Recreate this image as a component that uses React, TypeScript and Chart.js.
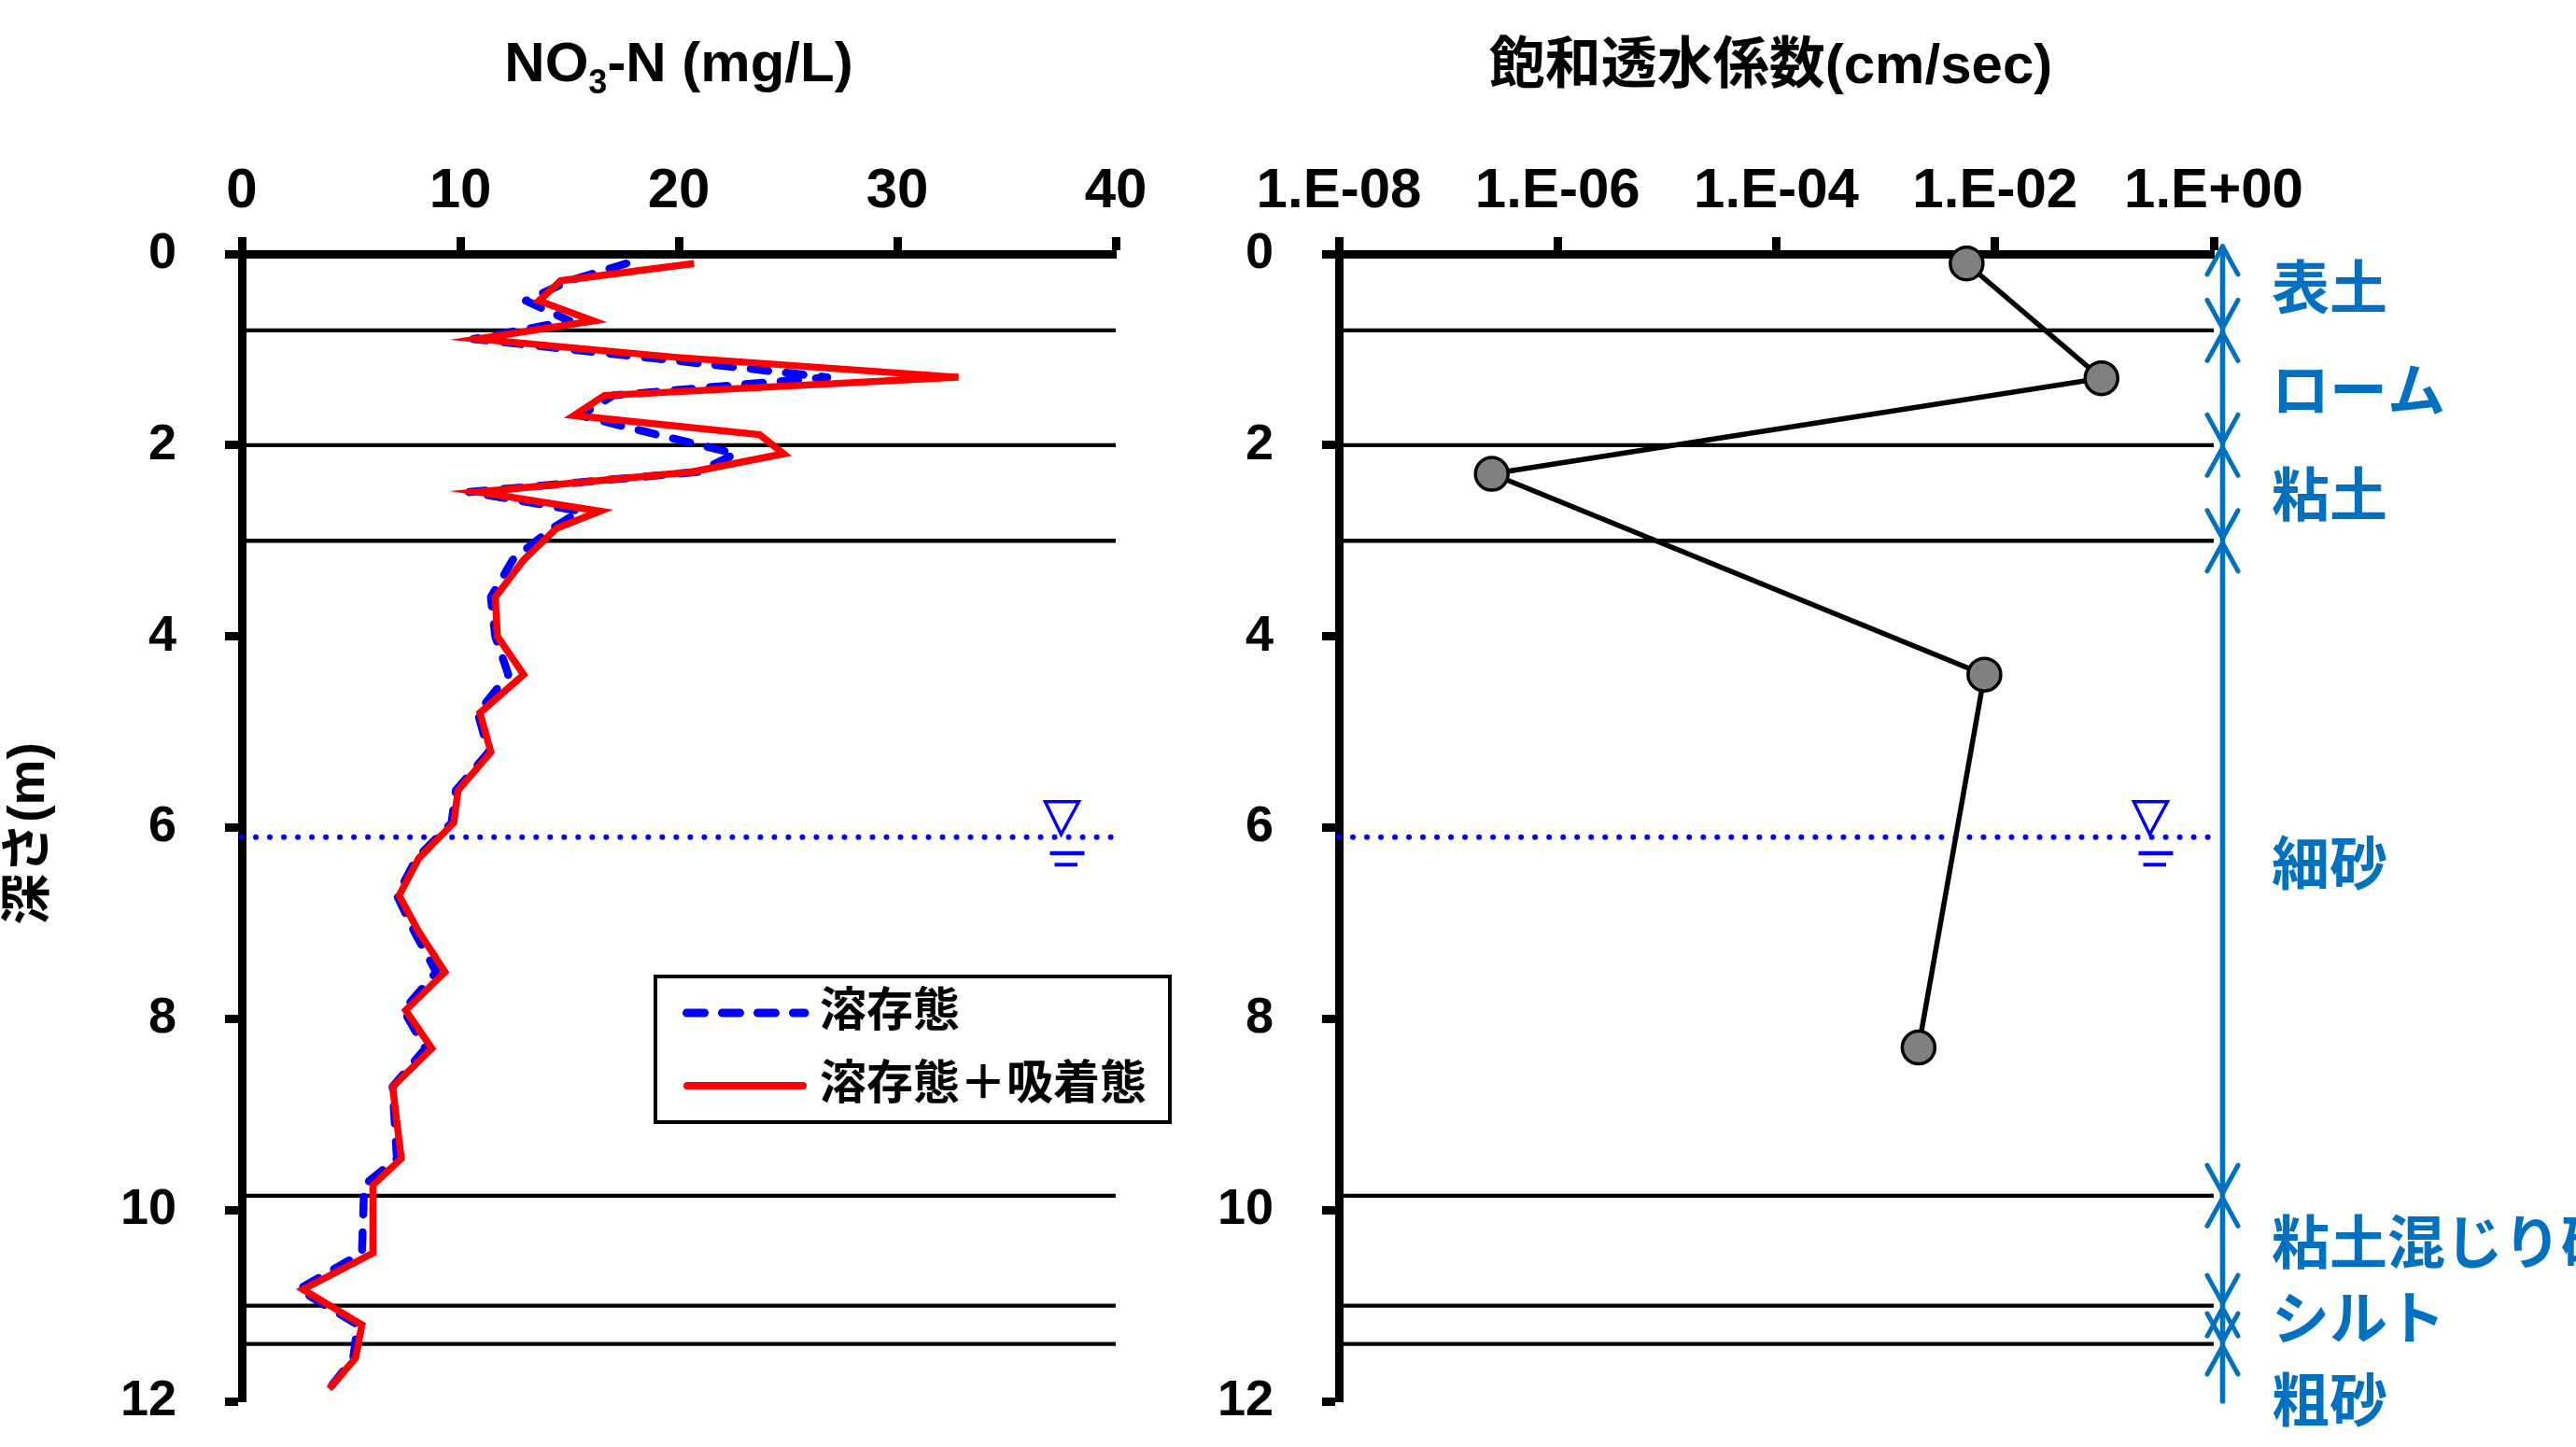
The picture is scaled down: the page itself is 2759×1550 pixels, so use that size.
import React, { useEffect, useRef } from 'react';
import { Chart, registerables } from 'chart.js';

Chart.register(...registerables);

// ---------------- data ----------------
const NO3_DEPTHS = [0.1, 0.28, 0.49, 0.7, 0.89, 1.08, 1.29, 1.48, 1.69, 1.89, 2.09, 2.28, 2.49, 2.69, 2.87, 3.2, 3.59, 4.0, 4.4, 4.8, 5.21, 5.61, 5.95, 6.32, 6.71, 7.09, 7.51, 7.91, 8.31, 8.71, 9.46, 9.74, 10.45, 10.83, 11.2, 11.55, 11.87];
const NO3_DISSOLVED = [17.6, 15.0, 13.0, 15.0, 10.6, 18.4, 26.8, 17.0, 15.5, 19.0, 22.6, 20.9, 10.4, 15.5, 14.2, 12.4, 11.4, 11.6, 12.2, 10.8, 11.3, 9.8, 9.6, 8.0, 7.1, 7.9, 8.9, 7.4, 8.4, 6.9, 7.1, 5.6, 5.5, 2.6, 5.3, 5.1, 4.0];
const NO3_TOTAL = [20.7, 14.6, 13.6, 16.1, 10.8, 19.8, 32.8, 16.6, 15.2, 23.7, 24.8, 20.6, 10.8, 16.4, 14.4, 12.9, 11.6, 11.7, 12.9, 10.9, 11.4, 9.9, 9.7, 8.1, 7.2, 8.1, 9.3, 7.5, 8.7, 6.9, 7.3, 6.0, 6.0, 2.8, 5.5, 5.2, 4.0];
const SERIES_LABELS = ['溶存態', '溶存態＋吸着態'];
const NO3_TICKS = [0, 10, 20, 30, 40];
const DEPTH_TICKS = [0, 2, 4, 6, 8, 10, 12];

const K_DEPTHS = [0.1, 1.3, 2.3, 4.4, 8.3];
const K_VALUES = [5.5e-3, 9.4e-2, 2.5e-7, 8.0e-3, 2.0e-3];
const K_TICKS = [1e-8, 1e-6, 1e-4, 1e-2, 1];
const K_TICK_LABELS = ['1.E-08', '1.E-06', '1.E-04', '1.E-02', '1.E+00'];

const LAYER_BOUNDARIES = [0.8, 2.0, 3.0, 9.85, 11.0, 11.4];
const LAYER_TOPS = [0, 0.8, 2.0, 3.0, 9.85, 11.0, 11.4];
const LAYER_BOTTOMS = [0.8, 2.0, 3.0, 9.85, 11.0, 11.4, 12];
const SOIL_NAMES = ['表土', 'ローム', '粘土', '細砂', '粘土混じり砂', 'シルト', '粗砂'];
const SOIL_LABEL_DEPTHS = [0.36, 1.43, 2.53, 6.38, 10.35, 11.14, 12.0];

const WATER_TABLE_DEPTH = 6.1;
const WATER_MARK_NO3 = 37.5;
const WATER_MARK_K = 0.26;

const TITLE_LEFT_MAIN = ['NO', '3', '-N (mg/L)'];
const TITLE_RIGHT = '飽和透水係数(cm/sec)';
const Y_TITLE = '深さ(m)';

// ---------------- layout / style ----------------
const PAGE_W = 2759;
const PAGE_H = 1550;
const FONT = "'Liberation Sans', Arial, 'Noto Sans CJK JP', sans-serif";
const SOIL_BLUE = '#0070C0';

const yAxis = (width: number) => ({
  type: 'linear',
  position: 'left',
  min: 0,
  max: 12,
  reverse: true,
  afterFit: (s: any) => {
    s.width = width;
    s.paddingTop = 0;
    s.paddingBottom = 0;
  },
  afterBuildTicks: (s: any) => { s.ticks = DEPTH_TICKS.map((v) => ({ value: v })); },
  ticks: { color: '#000', font: { family: FONT, size: 54, weight: 'bold' }, padding: 52, autoSkip: false },
  grid: { drawOnChartArea: false, drawTicks: true, tickLength: 18, tickWidth: 9, tickColor: '#000' },
  border: { display: true, color: '#000', width: 9 },
});

function drawLayerLines(chart: any) {
  const { ctx, chartArea, scales } = chart;
  ctx.save();
  ctx.strokeStyle = '#000';
  ctx.lineWidth = 4.3;
  LAYER_BOUNDARIES.forEach((d) => {
    const y = scales.y.getPixelForValue(d);
    ctx.beginPath();
    ctx.moveTo(chartArea.left, y);
    ctx.lineTo(chartArea.right, y);
    ctx.stroke();
  });
  ctx.restore();
}

function drawWaterMark(chart: any, xv: number) {
  const { ctx, scales } = chart;
  const cx = scales.x.getPixelForValue(xv);
  const ly = scales.y.getPixelForValue(WATER_TABLE_DEPTH);
  ctx.save();
  ctx.strokeStyle = '#0000FF';
  ctx.fillStyle = '#0000FF';
  ctx.lineWidth = 3.5;
  ctx.lineJoin = 'miter';
  ctx.beginPath();
  ctx.moveTo(cx - 17, ly - 38);
  ctx.lineTo(cx + 19, ly - 38);
  ctx.lineTo(cx, ly - 3);
  ctx.closePath();
  ctx.stroke();
  ctx.fillRect(cx - 12, ly + 15, 37, 4.5);
  ctx.fillRect(cx - 7, ly + 27.5, 24.5, 4);
  ctx.restore();
}

const leftDecor = {
  id: 'leftDecor',
  beforeDatasetsDraw(chart: any) { drawLayerLines(chart); },
  afterDatasetsDraw(chart: any) { drawWaterMark(chart, WATER_MARK_NO3); },
  afterDraw(chart: any) {
    const { ctx, chartArea } = chart;
    ctx.save();
    const cx = (chartArea.left + chartArea.right) / 2;
    const big = `bold 60px ${FONT}`;
    const small = `bold 36px ${FONT}`;
    ctx.font = big; const w1 = ctx.measureText(TITLE_LEFT_MAIN[0]).width;
    ctx.font = small; const w2 = ctx.measureText(TITLE_LEFT_MAIN[1]).width;
    ctx.font = big; const w3 = ctx.measureText(TITLE_LEFT_MAIN[2]).width;
    let x = cx - (w1 + w2 + w3) / 2;
    const base = 87;
    ctx.fillStyle = '#000';
    ctx.textAlign = 'left';
    ctx.textBaseline = 'alphabetic';
    ctx.font = big; ctx.fillText(TITLE_LEFT_MAIN[0], x, base); x += w1;
    ctx.font = small; ctx.fillText(TITLE_LEFT_MAIN[1], x, base + 13); x += w2;
    ctx.font = big; ctx.fillText(TITLE_LEFT_MAIN[2], x, base);

    ctx.save();
    ctx.translate(32, 893);
    ctx.rotate(-Math.PI / 2);
    ctx.font = `bold 55px ${FONT}`;
    ctx.textAlign = 'center';
    ctx.textBaseline = 'middle';
    ctx.fillText(Y_TITLE, 0, 0);
    ctx.restore();

    const lx = 702, ly = 1046, lw = 551, lh = 156;
    ctx.fillStyle = '#fff';
    ctx.fillRect(lx, ly, lw, lh);
    ctx.strokeStyle = '#000';
    ctx.lineWidth = 4;
    ctx.strokeRect(lx, ly, lw, lh);
    const rows = [1085, 1163];
    ctx.strokeStyle = '#0000FF';
    ctx.lineWidth = 9;
    ctx.lineCap = 'round';
    ctx.setLineDash([19, 19]);
    ctx.beginPath(); ctx.moveTo(735.5, rows[0]); ctx.lineTo(862, rows[0]); ctx.stroke();
    ctx.setLineDash([]);
    ctx.strokeStyle = '#FF0000';
    ctx.lineWidth = 8;
    ctx.beginPath(); ctx.moveTo(736, rows[1]); ctx.lineTo(860, rows[1]); ctx.stroke();
    ctx.fillStyle = '#000';
    ctx.font = `bold 50px ${FONT}`;
    ctx.textAlign = 'left';
    ctx.textBaseline = 'middle';
    ctx.fillText(SERIES_LABELS[0], 878, rows[0]);
    ctx.fillText(SERIES_LABELS[1], 878, rows[1]);
    ctx.restore();
  },
};

function arrowHead(ctx: any, x: number, tipY: number, dir: number) {
  ctx.beginPath();
  ctx.moveTo(x - 16.5, tipY - dir * 30);
  ctx.lineTo(x, tipY);
  ctx.lineTo(x + 16.5, tipY - dir * 30);
  ctx.stroke();
}

const rightDecor = {
  id: 'rightDecor',
  beforeDatasetsDraw(chart: any) { drawLayerLines(chart); },
  afterDatasetsDraw(chart: any) { drawWaterMark(chart, WATER_MARK_K); },
  afterDraw(chart: any) {
    const { ctx, chartArea, scales } = chart;
    const ys = scales.y;
    ctx.save();
    ctx.fillStyle = '#000';
    ctx.font = `bold 60px ${FONT}`;
    ctx.textAlign = 'center';
    ctx.textBaseline = 'middle';
    ctx.fillText(TITLE_RIGHT, (chartArea.left + chartArea.right) / 2 - 6, 72);

    const ax = chartArea.right + 9.5;
    ctx.strokeStyle = SOIL_BLUE;
    ctx.lineWidth = 5.5;
    ctx.lineCap = 'round';
    ctx.lineJoin = 'round';
    ctx.beginPath();
    ctx.moveTo(ax, ys.getPixelForValue(0) - 8);
    ctx.lineTo(ax, ys.getPixelForValue(12));
    ctx.stroke();
    ctx.lineWidth = 5;
    LAYER_TOPS.forEach((top, i) => {
      const topY = i === 0 ? ys.getPixelForValue(top) - 8 : ys.getPixelForValue(top) + 2.5;
      arrowHead(ctx, ax, topY, -1);
      if (i < LAYER_TOPS.length - 1) {
        arrowHead(ctx, ax, ys.getPixelForValue(LAYER_BOTTOMS[i]) - 2.5, 1);
      }
    });

    ctx.fillStyle = SOIL_BLUE;
    ctx.font = `bold 62px ${FONT}`;
    ctx.textAlign = 'left';
    ctx.textBaseline = 'middle';
    SOIL_NAMES.forEach((name, i) => {
      ctx.fillText(name, chartArea.right + 62, ys.getPixelForValue(SOIL_LABEL_DEPTHS[i]) + 5);
    });
    ctx.restore();
  },
};

export default function App() {
  const leftRef = useRef<HTMLCanvasElement | null>(null);
  const rightRef = useRef<HTMLCanvasElement | null>(null);

  useEffect(() => {
    const tickFont = { family: FONT, size: 60, weight: 'bold' };
    const xGrid = { drawOnChartArea: false, drawTicks: true, tickLength: 18, tickWidth: 9, tickColor: '#000' };
    const xBorder = { display: true, color: '#000', width: 9 };
    const xFit = (s: any) => {
      s.height = 272;
      s.paddingLeft = 0;
      s.paddingRight = 0;
    };

    const left = new Chart(leftRef.current as HTMLCanvasElement, {
      type: 'line',
      data: {
        datasets: [
          {
            label: SERIES_LABELS[1],
            data: NO3_DEPTHS.map((d, i) => ({ x: NO3_TOTAL[i], y: d })),
            borderColor: '#FF0000',
            borderWidth: 7.5,
            borderJoinStyle: 'miter',
            pointRadius: 0,
            tension: 0,
            order: 0,
            clip: false,
          },
          {
            label: SERIES_LABELS[0],
            data: NO3_DEPTHS.map((d, i) => ({ x: NO3_DISSOLVED[i], y: d })),
            borderColor: '#0000FF',
            borderWidth: 8.5,
            borderDash: [19, 19],
            borderCapStyle: 'round',
            borderJoinStyle: 'round',
            pointRadius: 0,
            tension: 0,
            order: 1,
            clip: false,
          },
          {
            label: '地下水位',
            data: [{ x: NO3_TICKS[0], y: WATER_TABLE_DEPTH }, { x: NO3_TICKS[NO3_TICKS.length - 1], y: WATER_TABLE_DEPTH }],
            borderColor: '#0000FF',
            borderWidth: 6,
            borderDash: [0.01, 15],
            borderCapStyle: 'round',
            pointRadius: 0,
            order: 2,
            clip: false,
          },
        ],
      } as any,
      options: {
        responsive: false,
        animation: false,
        devicePixelRatio: 1,
        events: [],
        layout: { padding: { left: 0, top: 0, right: PAGE_W - 1195, bottom: PAGE_H - 1501 } },
        plugins: { legend: { display: false }, tooltip: { enabled: false } },
        scales: {
          x: {
            type: 'linear',
            position: 'top',
            min: NO3_TICKS[0],
            max: NO3_TICKS[NO3_TICKS.length - 1],
            afterFit: xFit,
            afterBuildTicks: (s: any) => { s.ticks = NO3_TICKS.map((v) => ({ value: v })); },
            ticks: { color: '#000', font: tickFont, padding: 13, autoSkip: false, maxRotation: 0 },
            grid: xGrid,
            border: xBorder,
          },
          y: yAxis(259),
        },
      } as any,
      plugins: [leftDecor],
    });

    const right = new Chart(rightRef.current as HTMLCanvasElement, {
      type: 'line',
      data: {
        datasets: [
          {
            label: '飽和透水係数',
            data: K_DEPTHS.map((d, i) => ({ x: K_VALUES[i], y: d })),
            borderColor: '#000',
            borderWidth: 5.5,
            pointRadius: 17.5,
            pointBackgroundColor: '#808080',
            pointBorderColor: '#000',
            pointBorderWidth: 3.5,
            tension: 0,
            order: 0,
            clip: false,
          },
          {
            label: '地下水位',
            data: [{ x: K_TICKS[0], y: WATER_TABLE_DEPTH }, { x: K_TICKS[K_TICKS.length - 1], y: WATER_TABLE_DEPTH }],
            borderColor: '#0000FF',
            borderWidth: 6,
            borderDash: [0.01, 15],
            borderCapStyle: 'round',
            pointRadius: 0,
            order: 1,
            clip: false,
          },
        ],
      } as any,
      options: {
        responsive: false,
        animation: false,
        devicePixelRatio: 1,
        events: [],
        layout: { padding: { left: 0, top: 0, right: PAGE_W - 2371, bottom: PAGE_H - 1501 } },
        plugins: { legend: { display: false }, tooltip: { enabled: false } },
        scales: {
          x: {
            type: 'logarithmic',
            position: 'top',
            min: K_TICKS[0],
            max: K_TICKS[K_TICKS.length - 1],
            afterFit: xFit,
            afterBuildTicks: (s: any) => { s.ticks = K_TICKS.map((v) => ({ value: v })); },
            ticks: {
              color: '#000',
              font: tickFont,
              padding: 13,
              autoSkip: false,
              maxRotation: 0,
              callback: (_v: any, i: number) => K_TICK_LABELS[i],
            },
            grid: xGrid,
            border: xBorder,
          },
          y: yAxis(1434),
        },
      } as any,
      plugins: [rightDecor],
    });

    return () => {
      left.destroy();
      right.destroy();
    };
  }, []);

  const canvasStyle: React.CSSProperties = {
    position: 'absolute',
    left: 0,
    top: 0,
    width: PAGE_W,
    height: PAGE_H,
    display: 'block',
  };

  return (
    <div style={{ position: 'fixed', left: 0, top: 0, width: PAGE_W, height: PAGE_H, background: '#fff', overflow: 'hidden' }}>
      <canvas ref={leftRef} width={PAGE_W} height={PAGE_H} style={canvasStyle} />
      <canvas ref={rightRef} width={PAGE_W} height={PAGE_H} style={canvasStyle} />
    </div>
  );
}
